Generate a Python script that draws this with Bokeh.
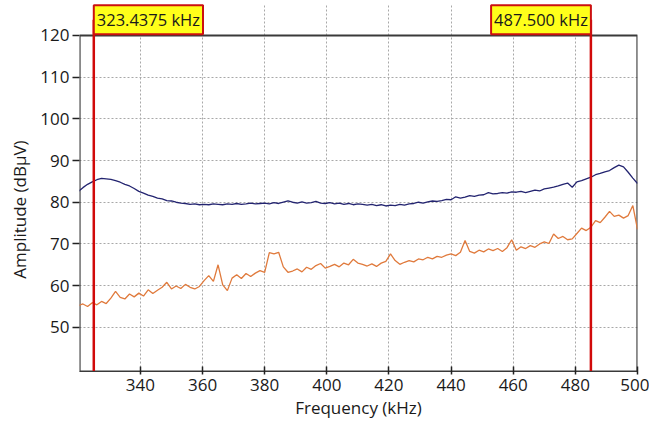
import numpy as np
from bokeh.plotting import figure
from bokeh.models import FixedTicker, Label, ColumnDataSource
from bokeh.embed import file_html
from bokeh.resources import INLINE

# ---- data ----
freq_start, freq_end = 320.0, 500.0
blue_amp = [
    82.6, 83.5, 84.3, 84.9, 85.4, 85.7, 85.6, 85.5, 85.2, 84.8,
    84.3, 83.9, 83.3, 82.6, 82.2, 81.7, 81.4, 81.0, 80.8, 80.4,
    80.3, 80.0, 79.8, 79.7, 79.5, 79.6, 79.4, 79.5, 79.4, 79.6,
    79.5, 79.4, 79.6, 79.5, 79.7, 79.5, 79.6, 79.8, 79.6, 79.7,
    79.8, 79.6, 79.9, 79.7, 80.0, 80.3, 80.0, 79.8, 80.1, 79.8,
    79.9, 80.2, 79.8, 79.7, 79.9, 79.6, 79.8, 79.5, 79.7, 79.4,
    79.6, 79.5, 79.3, 79.5, 79.2, 79.4, 79.1, 79.3, 79.2, 79.5,
    79.3, 79.6, 79.7, 80.0, 79.8, 80.1, 80.3, 80.2, 80.4, 80.7,
    80.6, 81.3, 81.0, 81.2, 81.6, 81.4, 81.7, 81.8, 82.3, 82.0,
    82.1, 82.3, 82.2, 82.5, 82.4, 82.6, 82.3, 82.6, 82.9, 82.7,
    83.2, 83.4, 83.6, 83.9, 84.3, 84.6, 83.6, 84.9, 85.2, 85.6,
    86.0, 86.6, 86.9, 87.3, 87.6, 88.3, 88.9, 88.5, 87.2, 85.8,
    84.5,
]
orange_amp = [
    55.2, 55.6, 55.0, 55.9, 55.4, 56.2, 55.7, 57.0, 58.6, 57.2,
    56.8, 58.0, 57.3, 58.2, 57.5, 59.0, 58.1, 58.9, 59.6, 60.8,
    59.2, 59.9, 59.3, 60.3, 59.6, 59.2, 59.8, 61.2, 62.4, 61.0,
    65.0, 60.2, 58.8, 61.8, 62.6, 61.7, 62.9, 62.2, 63.0, 63.6,
    63.2, 67.9, 67.6, 68.0, 64.5, 63.2, 63.5, 64.0, 63.3, 64.4,
    63.9, 64.8, 65.3, 64.2, 64.6, 65.1, 64.5, 65.4, 65.0, 66.3,
    65.4, 65.1, 64.7, 65.2, 64.6, 65.4, 65.8, 67.6, 66.0, 65.1,
    65.6, 66.0, 65.7, 66.4, 66.2, 66.8, 66.4, 67.0, 66.8, 67.3,
    67.6, 67.2, 68.0, 70.8, 68.2, 67.8, 68.5, 68.1, 68.8, 68.4,
    68.9, 68.2, 69.1, 71.0, 68.5, 69.3, 68.9, 69.6, 69.2, 70.0,
    70.5, 70.1, 72.4, 71.3, 71.8, 71.0, 71.2, 72.5, 73.8, 73.2,
    74.0, 75.6, 75.1, 76.4, 77.8, 76.6, 76.9, 76.2, 76.8, 79.2,
    73.5,
]
x_ticks = [340, 360, 380, 400, 420, 440, 460, 480, 500]
y_ticks = [50, 60, 70, 80, 90, 100, 110, 120]
marker_freqs = [325.0, 485.0]
marker_labels = ["323.4375 kHz", "487.500 kHz"]

blue_freq = np.linspace(freq_start, freq_end, len(blue_amp))
orange_freq = np.linspace(freq_start, freq_end, len(orange_amp))

FONT = "Open Sans"
X_LO, X_HI = 320.4, 500.0
Y_LO, Y_TOP, Y_HI = 39.4, 120.0, 127.67

p = figure(width=649, height=420, output_backend="svg", toolbar_location=None,
           x_range=(X_LO, X_HI), y_range=(Y_LO, Y_HI),
           min_border_left=79, min_border_right=12, min_border_top=3, min_border_bottom=49)
p.frame_width = 558
p.frame_height = 368

p.background_fill_color = "white"
p.border_fill_color = "white"
p.outline_line_color = None

p.xaxis.ticker = FixedTicker(ticks=x_ticks)
p.yaxis.ticker = FixedTicker(ticks=y_ticks)
p.xaxis.minor_tick_line_color = None
p.yaxis.minor_tick_line_color = None
p.xaxis.major_tick_in = 5
p.xaxis.major_tick_out = 3
p.yaxis.major_tick_in = 0
p.yaxis.major_tick_out = 7
for ax in (p.xaxis, p.yaxis):
    ax.major_tick_line_color = "#222222"
    ax.major_tick_line_width = 1.5
    ax.major_label_text_font = FONT
    ax.major_label_text_font_size = "17px"
    ax.major_label_text_color = "#1a1a1a"
    ax.axis_label_text_font = FONT
    ax.axis_label_text_font_size = "17px"
    ax.axis_label_text_font_style = "normal"
    ax.axis_label_text_color = "#1a1a1a"
p.xaxis.axis_line_color = "#3a3a3a"
p.yaxis.axis_line_color = None
p.xaxis.axis_label = "Frequency (kHz)"
# trailing no-break spaces push the label down to centre it on the 39–120 box
p.yaxis.axis_label = "Amplitude (dBµV)" + "\u00a0" * 10
p.xaxis.major_label_standoff = 4
p.yaxis.major_label_standoff = 3
p.xaxis.axis_label_standoff = 2
p.yaxis.axis_label_standoff = 6

for g in (p.xgrid, p.ygrid):
    g.grid_line_color = "#a8a8a8"
    g.grid_line_dash = "2 2"
    g.grid_line_width = 1
p.xgrid.ticker = FixedTicker(ticks=x_ticks[:-1])
p.ygrid.ticker = FixedTicker(ticks=y_ticks[:-1])

# plot-area border (ends at 120 dBµV)
p.rect(x=[(X_LO + X_HI) / 2], y=[(Y_LO + Y_TOP) / 2], width=[X_HI - X_LO], height=[Y_TOP - Y_LO],
       fill_color=None, line_color="#3a3a3a", line_width=2.2)

src_b = ColumnDataSource(dict(x=blue_freq, y=blue_amp))
src_o = ColumnDataSource(dict(x=orange_freq, y=orange_amp))
p.line("x", "y", source=src_o, line_color="#e07a3c", line_width=1.3)
p.line("x", "y", source=src_b, line_color="#232470", line_width=1.3)

label_y = 123.75
p.segment(x0=marker_freqs, y0=[Y_LO] * len(marker_freqs), x1=marker_freqs, y1=[label_y] * len(marker_freqs),
          line_color="#d10a0a", line_width=2.5)

p.add_layout(Label(x=marker_freqs[0], y=label_y, text=marker_labels[0],
                   text_align="left", text_baseline="middle",
                   text_font=FONT, text_font_size="16.5px", text_color="#1a1a1a",
                   background_fill_color="#ffff1a", border_line_color="#cc1010",
                   border_line_width=2, padding=3))
p.add_layout(Label(x=marker_freqs[1], y=label_y, text=marker_labels[1],
                   text_align="right", text_baseline="middle",
                   text_font=FONT, text_font_size="16.5px", text_color="#1a1a1a",
                   background_fill_color="#ffff1a", border_line_color="#cc1010",
                   border_line_width=2, padding=3))

open("out.html", "w").write(file_html(p, INLINE))
